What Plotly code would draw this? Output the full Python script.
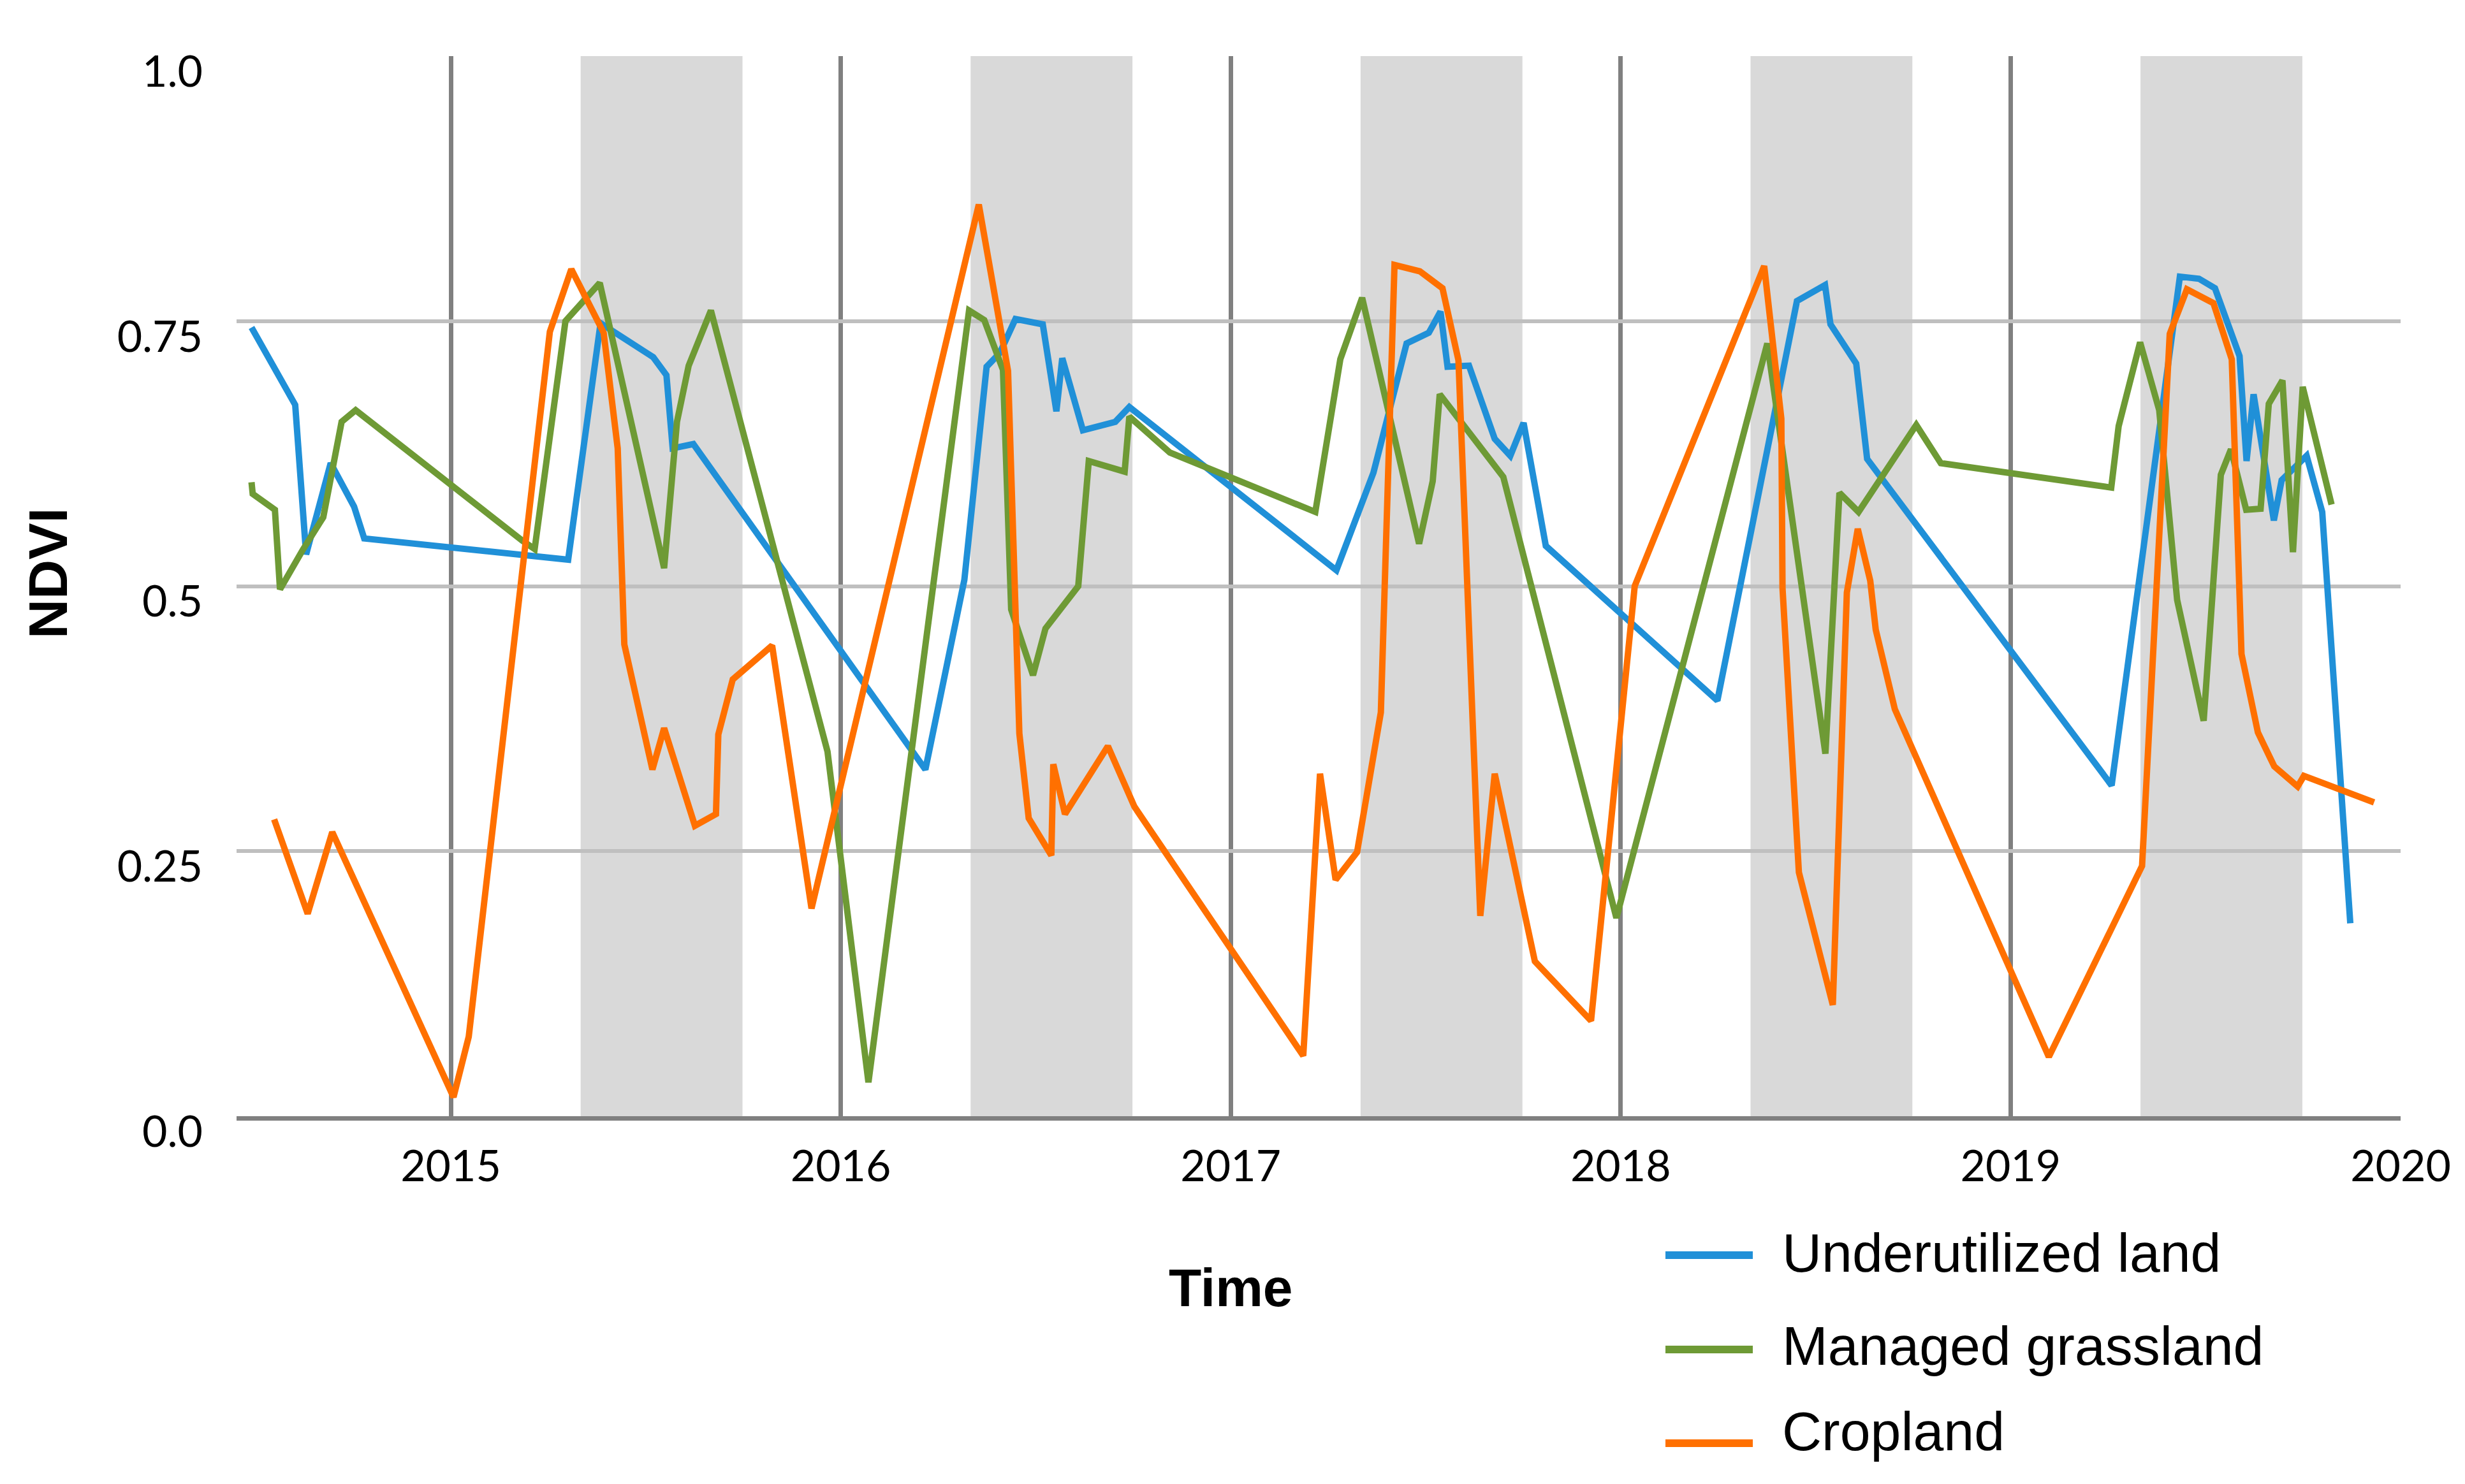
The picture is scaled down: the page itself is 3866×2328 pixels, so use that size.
import plotly.graph_objects as go

# ---------------- data (decimal years, NDVI) ----------------
under_x = [2014.489, 2014.601, 2014.629, 2014.692, 2014.752, 2014.778,
           2015.301, 2015.384, 2015.519, 2015.553, 2015.569, 2015.622,
           2016.217, 2016.317, 2016.374, 2016.408, 2016.448, 2016.518, 2016.553, 2016.568, 2016.621, 2016.704, 2016.740,
           2017.271, 2017.366, 2017.451, 2017.508, 2017.538, 2017.556, 2017.611, 2017.677, 2017.717, 2017.751, 2017.808,
           2018.248, 2018.452, 2018.524, 2018.538, 2018.604, 2018.632,
           2019.259, 2019.434, 2019.483, 2019.524, 2019.587, 2019.605, 2019.623, 2019.675, 2019.695, 2019.759, 2019.799, 2019.871]
under_y = [0.744, 0.671, 0.530, 0.616, 0.575, 0.545,
           0.525, 0.748, 0.716, 0.699, 0.630, 0.634,
           0.327, 0.506, 0.707, 0.720, 0.752, 0.747, 0.665, 0.715, 0.647, 0.655, 0.669,
           0.515, 0.607, 0.729, 0.739, 0.759, 0.707, 0.708, 0.639, 0.623, 0.654, 0.538,
           0.392, 0.769, 0.784, 0.747, 0.710, 0.620,
           0.312, 0.792, 0.790, 0.781, 0.717, 0.618, 0.681, 0.562, 0.600, 0.623, 0.570, 0.182]

grass_x = [2014.489, 2014.492, 2014.549, 2014.562, 2014.620, 2014.673, 2014.720, 2014.756,
           2015.183, 2015.215, 2015.294, 2015.382, 2015.547, 2015.580, 2015.610, 2015.667, 2015.966,
           2016.071, 2016.329, 2016.368, 2016.416, 2016.437, 2016.493, 2016.525, 2016.609, 2016.636, 2016.728, 2016.740, 2016.844,
           2017.217, 2017.281, 2017.337, 2017.483, 2017.518, 2017.536, 2017.699, 2017.989,
           2018.376, 2018.525, 2018.561, 2018.610, 2018.758, 2018.821,
           2019.258, 2019.277, 2019.332, 2019.381, 2019.427, 2019.495, 2019.539, 2019.565, 2019.604, 2019.641, 2019.662,
           2019.697, 2019.724, 2019.749, 2019.823]
grass_y = [0.598, 0.587, 0.572, 0.497, 0.534, 0.565, 0.655, 0.666,
           0.543, 0.535, 0.750, 0.786, 0.517, 0.655, 0.708, 0.760, 0.344,
           0.032, 0.760, 0.751, 0.704, 0.478, 0.416, 0.460, 0.500, 0.618, 0.608, 0.660, 0.626,
           0.570, 0.714, 0.772, 0.540, 0.599, 0.681, 0.603, 0.187,
           0.729, 0.342, 0.588, 0.570, 0.652, 0.616,
           0.593, 0.651, 0.730, 0.666, 0.487, 0.373, 0.605, 0.629, 0.572, 0.573, 0.672,
           0.694, 0.532, 0.688, 0.577]

crop_x = [2014.547, 2014.633, 2014.696, 2015.007, 2015.046, 2015.254, 2015.309, 2015.392, 2015.428, 2015.445,
          2015.517, 2015.547, 2015.626, 2015.680, 2015.686, 2015.723, 2015.824, 2015.925,
          2016.354, 2016.429, 2016.458, 2016.482, 2016.540, 2016.545, 2016.575, 2016.685, 2016.753,
          2017.186, 2017.229, 2017.269, 2017.324, 2017.385, 2017.420, 2017.485, 2017.543, 2017.584, 2017.640,
          2017.677, 2017.780, 2017.924,
          2018.036, 2018.368, 2018.412, 2018.415, 2018.457, 2018.544, 2018.580, 2018.608, 2018.640, 2018.654, 2018.703,
          2019.098, 2019.337, 2019.408, 2019.452, 2019.520, 2019.567, 2019.592, 2019.634, 2019.676, 2019.736, 2019.752,
          2019.932]
crop_y = [0.280, 0.191, 0.268, 0.018, 0.075, 0.740, 0.799, 0.739, 0.630, 0.445,
          0.327, 0.366, 0.274, 0.285, 0.360, 0.412, 0.444, 0.196,
          0.860, 0.703, 0.361, 0.281, 0.246, 0.332, 0.285, 0.349, 0.292,
          0.057, 0.323, 0.223, 0.249, 0.381, 0.803, 0.797, 0.781, 0.713, 0.189,
          0.323, 0.146, 0.090,
          0.500, 0.802, 0.658, 0.498, 0.230, 0.105, 0.494, 0.554, 0.505, 0.459, 0.384,
          0.056, 0.236, 0.738, 0.780, 0.767, 0.714, 0.436, 0.362, 0.330, 0.311, 0.321,
          0.296]

series_names = ["Underutilized land", "Managed grassland", "Cropland"]
series_colors = ["#2090D8", "#6E9A35", "#FF7000"]

season_years = [2015, 2016, 2017, 2018, 2019]
season_start = 0.333   # ~1 May
season_end = 0.748     # ~30 Sep

x_ticks = [2015, 2016, 2017, 2018, 2019, 2020]
x_labels = ["2015", "2016", "2017", "2018", "2019", "2020"]
y_ticks = [0, 0.25, 0.5, 0.75, 1.0]
y_labels = ["0.0", "0.25", "0.5", "0.75", "1.0"]

# ---------------- figure ----------------
W, H = 3866, 2328
ML, MR, MT, MB = 363, 109, 80, 585
PW, PH = W - ML - MR, H - MT - MB

fig = go.Figure()
for name, xs, ys, col in zip(series_names, [under_x, grass_x, crop_x], [under_y, grass_y, crop_y], series_colors):
    fig.add_trace(go.Scatter(x=xs, y=ys, mode="lines", name=name,
                             line=dict(color=col, width=10), showlegend=False))

shapes = []
for yr in season_years:
    shapes.append(dict(type="rect", xref="x", yref="paper", x0=yr + season_start, x1=yr + season_end,
                       y0=0, y1=1, fillcolor="#D9D9D9", line=dict(width=0), layer="below"))

def px2paper_x(px):
    return (px - ML) / PW

def px2paper_y(py):
    return (MT + PH - py) / PH

annotations = []
# manual legend (long line samples like the original)
leg_rows = [1961, 2109, 2256]
leg_text_dy = [-4, -6, -19]
for name, col, ry, dy in zip(series_names, series_colors, leg_rows, leg_text_dy):
    shapes.append(dict(type="line", xref="paper", yref="paper",
                       x0=px2paper_x(2604), x1=px2paper_x(2741), y0=px2paper_y(ry), y1=px2paper_y(ry),
                       line=dict(color=col, width=12)))
    annotations.append(dict(text=name, xref="paper", yref="paper", x=px2paper_x(2785), y=px2paper_y(ry + dy),
                            xanchor="left", yanchor="middle", showarrow=False,
                            font=dict(family="Liberation Sans", size=86, color="#000000")))

annotations.append(dict(text="<b>Time</b>", xref="paper", yref="paper", x=px2paper_x(1922), y=px2paper_y(2012),
                        xanchor="center", yanchor="middle", showarrow=False,
                        font=dict(family="Liberation Sans", size=84, color="#000000")))
annotations.append(dict(text="<b>NDVI</b>", xref="paper", yref="paper", x=px2paper_x(67), y=px2paper_y(892),
                        xanchor="center", yanchor="middle", showarrow=False, textangle=-90,
                        font=dict(family="Liberation Sans", size=86, color="#000000")))

fig.update_layout(
    width=W, height=H,
    margin=dict(l=ML, r=MR, t=MT, b=MB, pad=0),
    paper_bgcolor="white", plot_bgcolor="white",
    showlegend=False,
    shapes=shapes, annotations=annotations,
    xaxis=dict(range=[2014.4506, 2020], tickmode="array", tickvals=x_ticks, ticktext=x_labels,
               showgrid=True, gridcolor="#808080", gridwidth=7,
               showline=True, linecolor="#808080", linewidth=7, zeroline=False,
               ticks="", ticklabelstandoff=13,
               tickfont=dict(family="Lato", size=68, color="#000000")),
    yaxis=dict(range=[0, 1], tickmode="array", tickvals=y_ticks, ticktext=y_labels,
               showgrid=True, gridcolor="#BFBFBF", gridwidth=6,
               showline=False, zeroline=False, ticks="",
               ticklabelstandoff=52, ticklabelshift=24,
               tickfont=dict(family="Lato", size=68, color="#000000")),
)

fig.write_html("out.html")
